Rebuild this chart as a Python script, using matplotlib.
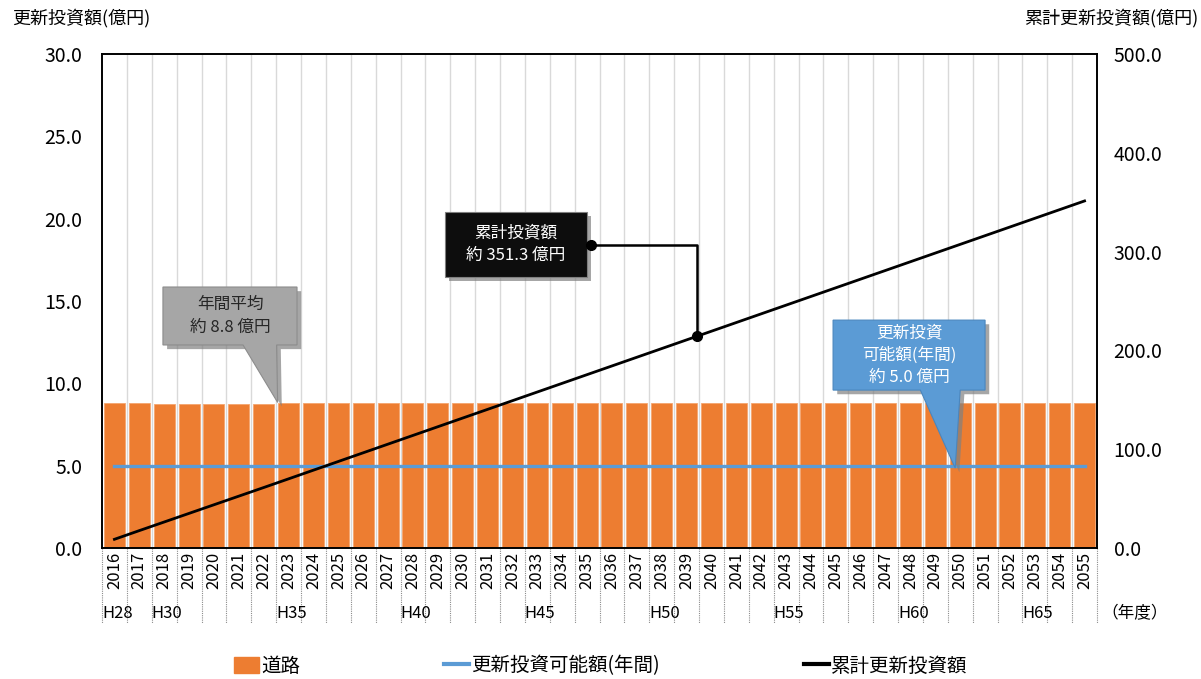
import matplotlib
matplotlib.use("Agg")
import matplotlib.pyplot as plt
import matplotlib.patheffects as pe
from matplotlib.patches import Polygon
from matplotlib.lines import Line2D
from matplotlib.patches import Patch
import numpy as np

plt.rcParams['font.family'] = ['Noto Sans CJK JP', 'DejaVu Sans']

years = list(range(2016, 2056))
road = [8.80, 8.80, 8.72, 8.72, 8.72, 8.72, 8.72] + [8.79] * 33
possible = [5.0] * 40
era_labels = {2016: "H28", 2018: "H30", 2023: "H35", 2028: "H40", 2033: "H45",
              2038: "H50", 2043: "H55", 2048: "H60", 2053: "H65"}

cum = np.cumsum(road)
x = np.arange(len(years))

fig = plt.figure(figsize=(12.01, 6.79), dpi=100)
ax = fig.add_axes([102 / 1201, 1 - 548 / 679, 995 / 1201, 494 / 679])
ax2 = ax.twinx()

orange = '#ED7D31'
blue = '#5B9BD5'

ax.bar(x, road, width=0.84, color=orange, edgecolor='#F4A46E', linewidth=0.6, zorder=2)
ax.plot(x, possible, color=blue, linewidth=2.4, zorder=3)
ax2.plot(x, cum, color='black', linewidth=2.0, zorder=3)

ax.set_xlim(-0.5, len(years) - 0.5)
ax.set_ylim(0, 30)
ax2.set_ylim(0, 500)
ax.set_yticks(np.arange(0, 31, 5))
ax.set_yticklabels([f"{v:.1f}" for v in np.arange(0, 31, 5)])
ax2.set_yticks(np.arange(0, 501, 100))
ax2.set_yticklabels([f"{v:.1f}" for v in np.arange(0, 501, 100)])
ax.tick_params(axis='y', length=0, pad=14, labelsize=14)
ax2.tick_params(axis='y', length=0, pad=12, labelsize=14)

# vertical grid at category boundaries
for b in np.arange(0.5, len(years) - 0.5, 1):
    ax.axvline(b, color='#D9D9D9', linewidth=1.0, zorder=1)

ax.set_xticks(x)
ax.set_xticklabels([str(y) for y in years], rotation=90, fontsize=12)
ax.tick_params(axis='x', length=0, pad=3)

for s in ax.spines.values():
    s.set_color('black')
    s.set_linewidth(1.2)
for s in ax2.spines.values():
    s.set_color('black')
    s.set_linewidth(1.2)

# separators and era labels below axis
tr = ax.get_xaxis_transform()
for b in np.arange(-0.5, len(years), 1):
    ax.plot([b, b], [0, -0.152], transform=tr, color='#8C8C8C', linewidth=0.8,
            linestyle=(0, (1, 1)), clip_on=False)
for i, y in enumerate(years):
    if y in era_labels:
        ax.text(i - 0.5, -0.132, era_labels[y], transform=tr, ha='left', va='center',
                fontsize=12)
ax.text(1.004, -0.132, "（年度）", transform=ax.transAxes, ha='left', va='center', fontsize=12)

# axis titles
fig.text(12 / 1201, 1 - 18 / 679, "更新投資額(億円)", ha='left', va='center', fontsize=13)
fig.text(1198 / 1201, 1 - 18 / 679, "累計更新投資額(億円)", ha='right', va='center', fontsize=13)

# callouts (drawn on top axes, in left-axis data coordinates)
shadow = [pe.SimplePatchShadow(offset=(3, -3), shadow_rgbFace='#808080', alpha=0.7), pe.Normal()]

gray_box = Polygon([(1.95, 15.85), (7.34, 15.85), (7.34, 12.33), (6.52, 12.33),
                    (6.56, road[7] + 0.05), (5.17, 12.33), (1.95, 12.33)],
                   closed=True, facecolor='#A6A6A6', edgecolor='#8C8C8C', linewidth=0.8,
                   transform=ax.transData, zorder=5)
gray_box.set_path_effects(shadow)
ax2.add_patch(gray_box)
ax2.text(4.65, 14.1, "年間平均\n約 8.8 億円", transform=ax.transData, ha='center', va='center',
         fontsize=12, color='#262626', linespacing=1.45, zorder=6)

blue_box = Polygon([(28.89, 13.84), (35.0, 13.84), (35.0, 9.59), (34.0, 9.59),
                    (33.8, possible[34] - 0.15), (32.4, 9.59), (28.89, 9.59)],
                   closed=True, facecolor=blue, edgecolor='#4A86BE', linewidth=0.8,
                   transform=ax.transData, zorder=5)
blue_box.set_path_effects(shadow)
ax2.add_patch(blue_box)
ax2.text(31.95, 11.72, "更新投資\n可能額(年間)\n約 5.0 億円", transform=ax.transData,
         ha='center', va='center', fontsize=12, color='white', linespacing=1.4, zorder=6)

black_box = Polygon([(13.29, 20.40), (18.99, 20.40), (18.99, 16.45), (13.29, 16.45)],
                    closed=True, facecolor='#0D0D0D', edgecolor='#7F7F7F', linewidth=0.8,
                    transform=ax.transData, zorder=5)
black_box.set_path_effects(shadow)
ax2.add_patch(black_box)
ax2.text(16.14, 18.45, "累計投資額\n約 351.3 億円", transform=ax.transData, ha='center',
         va='center', fontsize=12, color='white', linespacing=1.45, zorder=6)

x_hit = 23.42
y_hit = np.interp(x_hit, x, cum)
y_start = 18.40 * 500 / 30
ax2.plot([19.16, x_hit, x_hit], [y_start, y_start, y_hit], color='black', linewidth=1.8, zorder=6)
ax2.plot([19.16, x_hit], [y_start, y_hit], 'o', color='black', markersize=7, zorder=7)

# legend
handles = [Patch(facecolor=orange, edgecolor=orange),
           Line2D([0], [0], color=blue, linewidth=3),
           Line2D([0], [0], color='black', linewidth=3)]
labels = ["道路", "更新投資可能額(年間)", "累計更新投資額"]
fig.legend(handles, labels, loc='center', bbox_to_anchor=(0.5, 1 - 666 / 679), ncol=3,
           frameon=False, fontsize=14, columnspacing=7.4, handlelength=1.3,
           handletextpad=0.1, handleheight=0.9)

fig.savefig("out.png", dpi=100)
